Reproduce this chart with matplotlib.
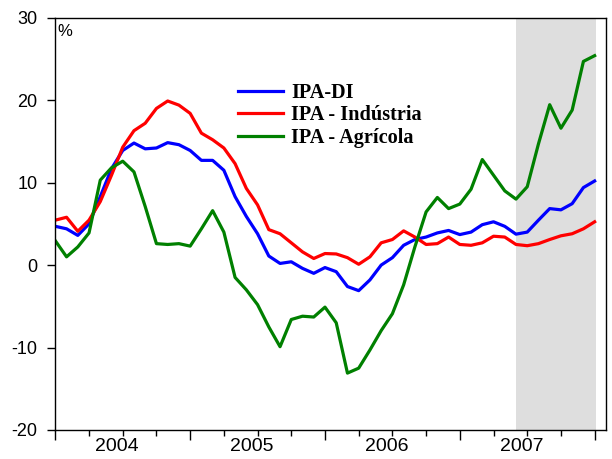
import matplotlib.pyplot as plt
import matplotlib.ticker as mticker

plt.rcParams['axes.unicode_minus'] = False

# monthly observations, positions 0..48 on the time axis
ipa_di = [4.7, 4.4, 3.6, 5.0, 8.3, 11.7, 13.9, 14.8, 14.1, 14.2, 14.85, 14.6,
          13.9, 12.7, 12.7, 11.5, 8.3, 5.9, 3.8, 1.1, 0.2, 0.4, -0.4, -1.0,
          -0.3, -0.8, -2.6, -3.1, -1.8, 0.0, 0.9, 2.4, 3.1, 3.4, 3.9, 4.2,
          3.7, 4.0, 4.9, 5.25, 4.7, 3.75, 4.0, 5.45, 6.85, 6.7, 7.45, 9.4, 10.2]
ipa_ind = [5.45, 5.8, 4.1, 5.45, 7.7, 10.9, 14.3, 16.3, 17.2, 19.0, 19.9, 19.4,
           18.4, 16.0, 15.2, 14.2, 12.3, 9.3, 7.3, 4.3, 3.8, 2.7, 1.6, 0.8,
           1.4, 1.35, 0.9, 0.1, 1.0, 2.7, 3.1, 4.15, 3.4, 2.5, 2.6, 3.4,
           2.5, 2.4, 2.7, 3.5, 3.4, 2.5, 2.35, 2.6, 3.1, 3.55, 3.8, 4.4, 5.25]
ipa_agr = [2.95, 1.0, 2.2, 3.9, 10.3, 11.8, 12.6, 11.3, 7.1, 2.6, 2.5, 2.6,
           2.3, 4.4, 6.6, 4.0, -1.5, -3.0, -4.8, -7.5, -9.9, -6.6, -6.2, -6.3,
           -5.1, -7.0, -13.1, -12.5, -10.3, -7.95, -5.9, -2.4, 2.2, 6.45, 8.2, 6.85,
           7.4, 9.2, 12.8, 10.9, 9.0, 8.0, 9.5, 14.7, 19.45, 16.6, 18.8, 24.7, 25.4]
years = ['2004', '2005', '2006', '2007']
labels = ['IPA-DI', 'IPA - Indústria', 'IPA - Agrícola']
colors = ['#0000ff', '#ff0000', '#008000']

x = list(range(len(ipa_di)))

fig = plt.figure(figsize=(6.12, 4.59), dpi=100)
ax = fig.add_axes([0.0904, 0.0632, 0.8996, 0.8982])

ax.axvspan(41, 48.1, color='#dedede', lw=0, zorder=0)
for serie, lab, c in zip([ipa_di, ipa_ind, ipa_agr], labels, colors):
    ax.plot(x, serie, color=c, lw=2.3, label=lab, zorder=2)

ax.set_xlim(0, 49)
ax.set_ylim(-20, 30)
ax.set_yticks([-20, -10, 0, 10, 20, 30])
ax.set_xticks([0, 12, 24, 36, 48])
ax.xaxis.set_minor_locator(mticker.MultipleLocator(3))
ax.set_xticklabels([])
ax.tick_params(axis='y', direction='out', length=6, width=1, labelsize=13, pad=7)
ax.tick_params(axis='x', which='major', direction='out', length=7, width=1)
ax.tick_params(axis='x', which='minor', direction='out', length=4, width=1)
for lab in ax.get_yticklabels():
    lab.set_family('Liberation Sans')

for k, yr in enumerate(years):
    ax.text(12 * k + 5.5, -0.02, yr, transform=ax.get_xaxis_transform(),
            ha='center', va='top', fontsize=14, family='Liberation Sans')

for s in ax.spines.values():
    s.set_linewidth(1)

ax.text(0.004, 0.985, '%', transform=ax.transAxes, ha='left', va='top',
        fontsize=12, family='Liberation Sans')

leg = ax.legend(loc='upper left', bbox_to_anchor=(0.332, 0.842), frameon=False,
                prop={'family': 'Liberation Serif', 'weight': 'bold', 'size': 14.6},
                handlelength=2.2, handletextpad=0.4, labelspacing=0.13,
                borderpad=0, borderaxespad=0)

fig.savefig('out.png', dpi=100)
